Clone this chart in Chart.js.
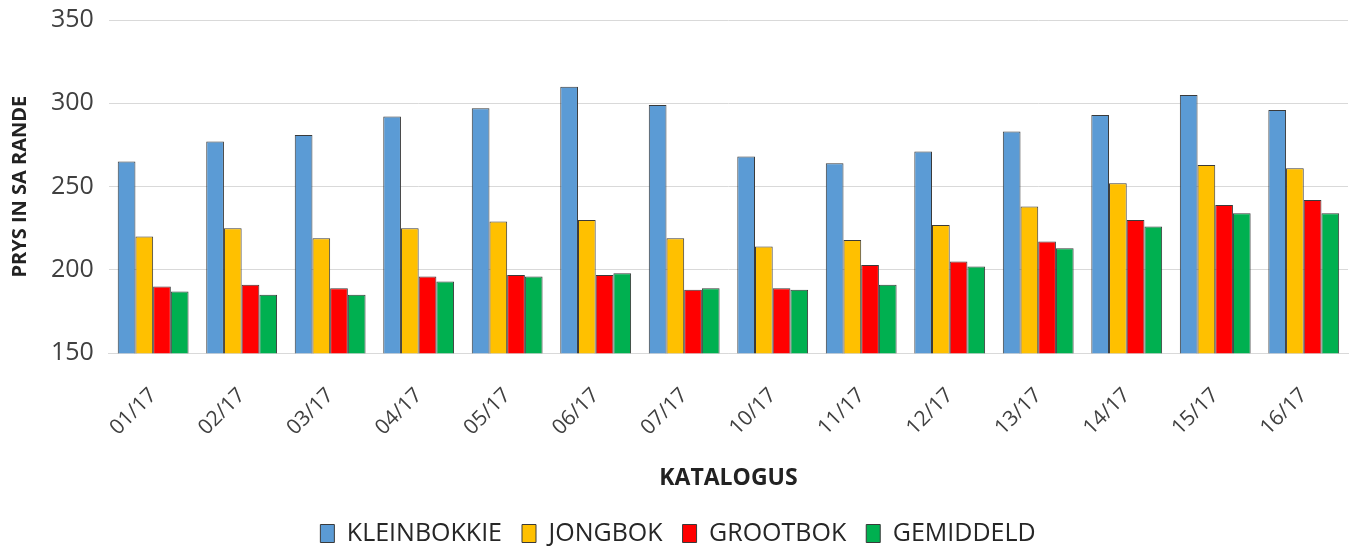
<!DOCTYPE html>
<html>
<head>
<meta charset="utf-8">
<script src="https://cdn.jsdelivr.net/npm/chart.js@4"></script>
<style>
    html, body { margin: 0; padding: 0; background: #ffffff; }
    #wrap { width: 1356px; height: 550px; }
</style>
</head>
<body>
<div id="wrap"><canvas id="pricesChart" width="1356" height="550"></canvas></div>
<script>
// Katalogus labels and prices (SA rand)
const catalogues = ['01/17', '02/17', '03/17', '04/17', '05/17', '06/17', '07/17',
    '10/17', '11/17', '12/17', '13/17', '14/17', '15/17', '16/17'];
const kleinbokkie = [265, 277, 281, 292, 297, 310, 299, 268, 264, 271, 283, 293, 305, 296];
const jongbok = [220, 225, 219, 225, 229, 230, 219, 214, 218, 227, 238, 252, 263, 261];
const grootbok = [190, 191, 189, 196, 197, 197, 188, 189, 203, 205, 217, 230, 239, 242];
const gemiddeld = [187, 185, 185, 193, 196, 198, 189, 188, 191, 202, 213, 226, 234, 234];
const yTicks = [150, 200, 250, 300, 350];

const FONT = "'Open Sans', 'Liberation Sans', sans-serif";
const TEXT = '#404040';

function series(label, data, color) {
    return {
        label: label,
        data: data,
        backgroundColor: color,
        borderColor: '#3a3a3a',
        borderWidth: 1,
        barPercentage: 1.0,
        categoryPercentage: 0.8
    };
}

document.addEventListener('DOMContentLoaded', function () {
    const ctx = document.getElementById('pricesChart').getContext('2d');
    new Chart(ctx, {
        type: 'bar',
        data: {
            labels: catalogues,
            datasets: [
                series('KLEINBOKKIE', kleinbokkie, '#5b9bd5'),
                series('JONGBOK', jongbok, '#ffc000'),
                series('GROOTBOK', grootbok, '#ff0000'),
                series('GEMIDDELD', gemiddeld, '#00b050')
            ]
        },
        options: {
            responsive: false,
            animation: false,
            layout: { padding: { top: 20, right: 8, left: 8, bottom: -6 } },
            plugins: {
                tooltip: { enabled: false },
                legend: {
                    position: 'bottom',
                    labels: {
                        boxWidth: 14,
                        boxHeight: 18,
                        padding: 20,
                        color: '#262626',
                        font: { family: FONT, size: 25 }
                    }
                }
            },
            scales: {
                y: {
                    min: 150,
                    max: 350,
                    afterBuildTicks: function (axis) {
                        axis.ticks = yTicks.map(v => ({ value: v }));
                    },
                    // keep the plot top close to the canvas edge
                    afterFit: function (axis) {
                        axis.paddingTop = 0;
                    },
                    grid: { color: '#d9d9d9', drawTicks: false },
                    border: { display: false },
                    ticks: {
                        padding: 15,
                        color: TEXT,
                        font: { family: FONT, size: 25 }
                    },
                    title: {
                        display: true,
                        text: 'PRYS IN SA RANDE',
                        color: '#222',
                        padding: { top: 0, bottom: 4 },
                        font: { family: FONT, size: 20, weight: 'bold' }
                    }
                },
                x: {
                    grid: { display: false, drawTicks: false },
                    border: { display: true, color: '#d9d9d9' },
                    ticks: {
                        minRotation: 45,
                        maxRotation: 45,
                        padding: 30,
                        color: TEXT,
                        font: { family: FONT, size: 21 }
                    },
                    title: {
                        display: true,
                        text: 'KATALOGUS',
                        color: '#222',
                        padding: { top: -6, bottom: 9 },
                        font: { family: FONT, size: 23, weight: 'bold' }
                    }
                }
            }
        }
    });
});
</script>
</body>
</html>
